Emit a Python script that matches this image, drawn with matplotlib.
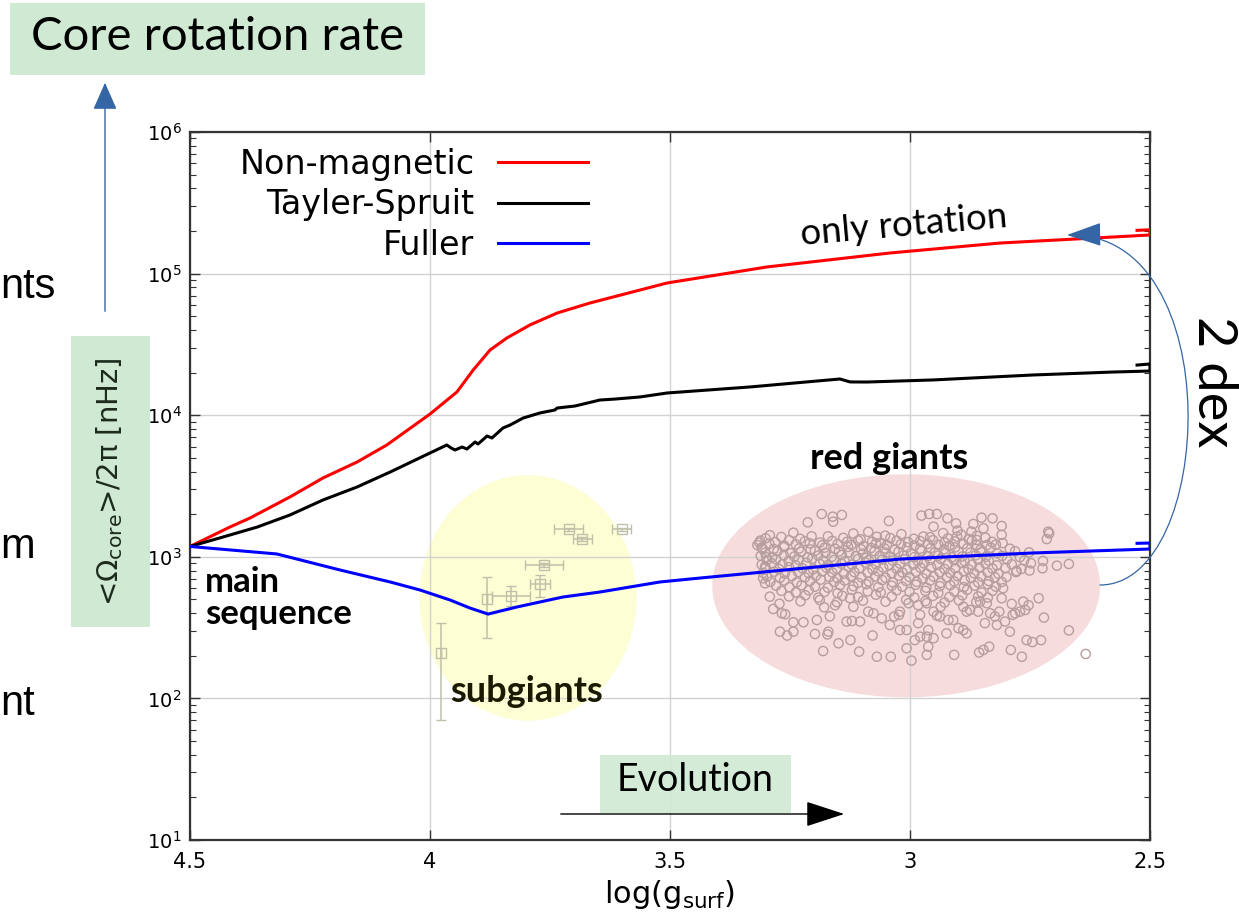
import numpy as np
import matplotlib
matplotlib.use("Agg")
import matplotlib.pyplot as plt
from matplotlib.patches import Rectangle, Ellipse, FancyArrowPatch
from matplotlib.path import Path
from matplotlib.ticker import FixedLocator, FixedFormatter

# --- model tracks: log g vs <Omega_core>/2pi [nHz] ---
red_logg = [4.5, 4.417, 4.375, 4.292, 4.223, 4.152, 4.090, 4.0, 3.944, 3.910, 3.875, 3.840,
            3.792, 3.735, 3.667, 3.5625, 3.506, 3.298, 3.042, 2.8125, 2.577, 2.5, 2.5, 2.527]
red_rate = [1183, 1622, 1879, 2643, 3603, 4670, 6160, 10190, 14580, 20850, 28850, 35080,
            43350, 52700, 61970, 76560, 85860, 111400, 139800, 164400, 181300, 187400, 204000, 202000]

ts_logg = [4.5, 4.431, 4.360, 4.292, 4.223, 4.152, 4.083, 4.0, 3.965, 3.956, 3.948, 3.933,
           3.923, 3.906, 3.900, 3.881, 3.871, 3.848, 3.833, 3.806, 3.771, 3.740, 3.735, 3.698,
           3.646, 3.615, 3.5625, 3.506, 3.333, 3.146, 3.125, 3.090, 2.952, 2.744, 2.577, 2.5,
           2.5, 2.527]
ts_rate = [1183, 1380, 1622, 1972, 2518, 3111, 3970, 5408, 6160, 5866, 5680, 5960,
           5770, 6470, 6260, 7130, 6900, 8120, 8530, 9550, 10370, 10880, 11240, 11610,
           12800, 13000, 13450, 14350, 15830, 18020, 17180, 17150, 17740, 19230, 20180, 20510,
           23000, 22600]

fu_logg = [4.5, 4.319, 4.1875, 4.083, 4.021, 3.958, 3.917, 3.879, 3.819, 3.723, 3.646, 3.521,
           3.4375, 3.021, 2.744, 2.5, 2.5, 2.527]
fu_rate = [1183, 1047, 807, 664, 583, 495, 435, 394, 442, 520, 564, 664,
           708, 964, 1064, 1135, 1251, 1245]

# --- subgiant measurements ---
sg_logg = [3.978, 3.881, 3.831, 3.771, 3.763, 3.711, 3.683, 3.601]
sg_rate = [208, 501, 531, 640, 871, 1564, 1336, 1564]
sg_err_lo = [138, 235, 79, 117, 30, 40, 40, 40]
sg_err_hi = [131, 222, 91, 103, 30, 40, 40, 40]
sg_xerr = [0.0, 0.0, 0.04, 0.02, 0.04, 0.03, 0.02, 0.02]

# --- red giant measurements (outer points) ---
rg_top_logg = [3.184, 3.161, 3.142, 3.160, 3.213, 3.044, 2.976, 2.960, 2.944, 2.922, 2.904, 2.901, 2.951,
               2.851, 2.828, 2.868, 2.847, 2.809, 2.872, 2.861, 2.840, 2.809, 2.807, 2.712, 2.715, 2.710]
rg_top_rate = [2005, 1920, 1975, 1770, 1750, 1790, 1955, 2005, 2005, 1870, 1722, 1531, 1632,
               1890, 1870, 1705, 1590, 1650, 1505, 1314, 1210, 1430, 1250, 1505, 1335, 1464]

rg_low_logg = [3.271, 3.256, 3.198, 3.181, 3.172, 3.149, 3.124, 3.106, 3.078, 3.069,
               3.040, 3.007, 2.997, 2.965, 2.962, 2.908, 2.856, 2.847, 2.835, 2.790,
               2.767, 2.757, 2.745, 2.727, 2.669, 2.634,
               2.669, 2.694, 2.724, 2.721, 2.732,
               2.751, 2.778, 2.764, 2.771, 2.760,
               2.753, 2.788, 2.809, 2.806]
rg_low_rate = [296, 278, 285, 216, 283, 245, 258, 214, 278, 197,
               197, 226, 185, 203, 232, 203, 211, 220, 232, 220,
               197, 258, 250, 258, 302, 206,
               890, 866, 830, 372, 510,
               800, 795, 483, 410, 421,
               455, 465, 510, 600]

rg_left_logg = [3.314, 3.307, 3.299, 3.302, 3.306, 3.302, 3.292, 3.285, 3.272, 3.267, 3.260,
                3.243, 3.222, 3.194, 3.179, 3.167, 3.156]
rg_left_rate = [1260, 1140, 990, 852, 705, 650, 523, 428, 466, 399, 393,
                345, 345, 358, 440, 380, 455]

rg_mid_logg = [3.125, 3.118, 3.132, 3.121, 3.104, 3.087, 3.076, 3.059, 3.042, 3.033,
               3.023, 3.021, 3.003, 2.979, 2.983, 2.965, 2.951, 2.944, 2.936, 2.938,
               2.920, 2.910, 2.899, 2.889, 2.882, 2.924, 2.875, 2.858, 2.844, 2.833,
               2.823, 2.819, 2.814, 2.802, 2.792, 2.786, 2.781, 2.840, 2.854, 2.889,
               2.882, 2.983, 3.021, 3.007, 2.990, 2.979, 2.965, 2.951, 2.962, 3.170, 3.243]
rg_mid_rate = [510, 444, 349, 352, 349, 410, 399, 368, 330, 379,
               389, 410, 470, 389, 340, 470, 410, 385, 444, 379,
               358, 358, 313, 304, 288, 288, 421, 410, 340, 399,
               379, 330, 410, 349, 296, 389, 399, 470, 483, 444,
               410, 456, 304, 304, 258, 273, 273, 266, 304, 296, 296]

# --- red giant measurements (dense core) ---
rg_core_logg = (
    [3.292, 3.243, 3.205, 3.118, 3.087, 3.052, 3.018, 2.972, 2.931, 2.893, 2.861]
    + [3.301, 3.268, 3.229, 3.171, 3.139, 3.103, 3.069, 3.041, 2.992, 2.958, 2.921, 2.902, 2.878, 2.843]
    + [3.312, 3.281, 3.252, 3.219, 3.188, 3.162, 3.131, 3.108, 3.079, 3.061, 3.028, 3.004, 2.979, 2.952,
       2.928, 2.907, 2.871, 2.829]
    + [3.318, 3.293, 3.262, 3.238, 3.209, 3.183, 3.151, 3.122, 3.097, 3.071, 3.048, 3.019, 2.991, 2.963,
       2.941, 2.918, 2.889, 2.861, 2.821]
    + [3.309, 3.284, 3.262, 3.231, 3.207, 3.178, 3.156, 3.129, 3.102, 3.081, 3.053, 3.032, 3.006, 2.979,
       2.957, 2.929, 2.906, 2.881, 2.853, 2.832, 2.792]
    + [3.302, 3.276, 3.249, 3.227, 3.198, 3.176, 3.148, 3.127, 3.098, 3.074, 3.051, 3.024, 2.998, 2.976,
       2.948, 2.926, 2.899, 2.874, 2.851, 2.818, 2.781, 2.752]
    + [3.311, 3.287, 3.263, 3.241, 3.213, 3.191, 3.163, 3.142, 3.113, 3.091, 3.063, 3.041, 3.013, 2.991,
       2.963, 2.941, 2.913, 2.891, 2.863, 2.842, 2.808, 2.771]
    + [3.298, 3.279, 3.253, 3.232, 3.204, 3.181, 3.158, 3.136, 3.108, 3.086, 3.058, 3.036, 3.011, 2.984,
       2.958, 2.936, 2.908, 2.886, 2.858, 2.836, 2.798, 2.762, 2.723]
    + [3.309, 3.288, 3.266, 3.238, 3.216, 3.188, 3.171, 3.143, 3.121, 3.093, 3.071, 3.043, 3.021, 2.993,
       2.971, 2.943, 2.921, 2.893, 2.871, 2.843, 2.819, 2.788, 2.748]
    + [3.301, 3.273, 3.252, 3.224, 3.202, 3.174, 3.152, 3.128, 3.106, 3.078, 3.056, 3.028, 3.006, 2.978,
       2.956, 2.928, 2.906, 2.878, 2.856, 2.828, 2.801, 2.768]
    + [3.306, 3.283, 3.261, 3.233, 3.211, 3.183, 3.162, 3.138, 3.116, 3.088, 3.066, 3.038, 3.016, 2.988,
       2.966, 2.938, 2.916, 2.888, 2.866, 2.838, 2.816, 2.779]
    + [3.298, 3.271, 3.246, 3.219, 3.196, 3.168, 3.151, 3.123, 3.101, 3.073, 3.051, 3.023, 3.001, 2.973,
       2.951, 2.923, 2.901, 2.873, 2.851, 2.823, 2.799]
    + [3.291, 3.262, 3.236, 3.208, 3.186, 3.158, 3.136, 3.108, 3.086, 3.058, 3.036, 3.008, 2.986, 2.958,
       2.936, 2.908, 2.886, 2.858, 2.836, 2.809]
    + [3.279, 3.251, 3.226, 3.198, 3.171, 3.146, 3.118, 3.091, 3.066, 3.038, 3.016, 2.988, 2.966, 2.938,
       2.916, 2.888, 2.866, 2.838, 2.821]
    + [3.268, 3.238, 3.211, 3.178, 3.151, 3.121, 3.088, 3.061, 3.028, 3.001, 2.968, 2.941, 2.908, 2.881,
       2.851, 2.828]
    + [3.252, 3.218, 3.191, 3.141, 3.108, 3.071, 3.038, 2.991, 2.952, 2.918, 2.891, 2.858, 2.838]
    + [3.228, 3.188, 3.152, 3.098, 3.051, 3.008, 2.968, 2.928, 2.898, 2.862]
)
rg_core_rate = (
    [1420, 1480, 1395, 1460, 1500, 1410, 1445, 1390, 1470, 1430, 1405]
    + [1350, 1380, 1340, 1395, 1360, 1330, 1385, 1355, 1340, 1375, 1350, 1390, 1335, 1365]
    + [1300, 1270, 1310, 1285, 1260, 1295, 1275, 1305, 1280, 1255, 1300, 1270, 1290, 1310,
       1265, 1285, 1300, 1275]
    + [1210, 1235, 1200, 1225, 1245, 1205, 1230, 1215, 1190, 1240, 1210, 1225, 1200, 1235,
       1215, 1195, 1230, 1210, 1220]
    + [1160, 1135, 1170, 1145, 1125, 1160, 1140, 1175, 1130, 1155, 1145, 1120, 1165, 1140,
       1150, 1130, 1165, 1145, 1125, 1160, 1140]
    + [1070, 1095, 1060, 1085, 1100, 1065, 1090, 1075, 1055, 1095, 1070, 1085, 1060, 1100,
       1075, 1065, 1090, 1070, 1080, 1060, 1095, 1075]
    + [1015, 995, 1025, 1005, 990, 1020, 1000, 1030, 1010, 985, 1015, 1000, 1025, 995,
       1010, 1020, 990, 1005, 1025, 1000, 1015, 995]
    + [945, 960, 935, 955, 970, 940, 950, 930, 965, 945, 955, 940, 960, 935,
       950, 965, 945, 930, 955, 940, 960, 945, 935]
    + [880, 900, 885, 870, 905, 890, 875, 895, 880, 910, 885, 870, 895, 880,
       900, 875, 890, 905, 880, 895, 870, 885, 900]
    + [835, 820, 845, 830, 815, 840, 825, 850, 830, 815, 840, 825, 810, 835,
       845, 820, 830, 815, 840, 825, 835, 820]
    + [770, 785, 760, 780, 765, 790, 775, 760, 780, 770, 790, 765, 775, 785,
       760, 780, 770, 790, 765, 775, 760, 780]
    + [725, 710, 730, 715, 735, 720, 705, 730, 715, 725, 710, 735, 720, 705,
       725, 715, 730, 710, 725, 715, 720]
    + [665, 680, 660, 675, 690, 665, 680, 655, 670, 685, 660, 675, 665, 680,
       655, 670, 685, 660, 675, 665]
    + [625, 610, 630, 615, 605, 630, 620, 640, 610, 625, 615, 635, 605, 620,
       630, 610, 625, 640, 615]
    + [575, 560, 580, 565, 555, 585, 570, 560, 580, 565, 575, 555, 570, 585,
       560, 575]
    + [525, 535, 515, 530, 520, 540, 525, 515, 530, 520, 535, 525, 515]
    + [485, 495, 478, 490, 482, 497, 486, 475, 492, 480]
)

x_ticks = [4.5, 4.0, 3.5, 3.0, 2.5]
x_ticklabels = ["4.5", "4", "3.5", "3", "2.5"]
legend_labels = ["Non-magnetic", "Tayler-Spruit", "Fuller"]

W, H = 1239, 919
hand = "Lato"
green_box = "#cfe9d3"
arrow_blue = "#3465a4"


def fpos(px, py):
    # pixel position -> figure fraction
    return px / W, 1 - py / H


fig = plt.figure(figsize=(W / 100, H / 100), dpi=100)
ax = fig.add_axes([190 / W, 1 - 840 / H, 960 / W, 708 / H])

ax.set_yscale("log")
ax.set_xlim(4.5, 2.5)
ax.set_ylim(10, 1e6)

# background regions
ax.add_patch(Ellipse((0.352, 0.342), 0.226, 0.347, transform=ax.transAxes,
                     facecolor="#fefed4", edgecolor="none", zorder=1))
ax.add_patch(Ellipse((0.746, 0.359), 0.404, 0.315, transform=ax.transAxes,
                     facecolor="#f6dcdc", edgecolor="none", zorder=1))

ax.grid(True, which="major", color="#d2d2d2", lw=1.0, zorder=1.5)

# observations
rg_logg = rg_top_logg + rg_low_logg + rg_left_logg + rg_mid_logg + rg_core_logg
rg_rate = rg_top_rate + rg_low_rate + rg_left_rate + rg_mid_rate + rg_core_rate
ax.scatter(rg_logg, rg_rate, s=44, facecolors="none", edgecolors="#b79e9e",
           linewidths=1.0, zorder=2)

ax.errorbar(sg_logg, sg_rate, yerr=[sg_err_lo, sg_err_hi], xerr=sg_xerr, fmt="s",
            ms=7, mfc="none", mec="#c0c0aa", mew=1.0, ecolor="#c0c0aa", elinewidth=1.1,
            capsize=3.5, capthick=1.1, zorder=2)

# model tracks
l1, = ax.plot(red_logg, red_rate, color="#ff0000", lw=2.2, zorder=3)
l2, = ax.plot(ts_logg, ts_rate, color="black", lw=2.2, zorder=3)
l3, = ax.plot(fu_logg, fu_rate, color="#0000ff", lw=2.2, zorder=3)

ax.legend([l1, l2, l3], legend_labels, loc="upper right", bbox_to_anchor=(0.415, 0.978),
          frameon=False, markerfirst=False, fontsize=24, handlelength=2.7,
          handletextpad=0.72, labelspacing=0.23, borderpad=0, borderaxespad=0)

ax.xaxis.set_major_locator(FixedLocator(x_ticks))
ax.xaxis.set_major_formatter(FixedFormatter(x_ticklabels))
ax.tick_params(which="both", direction="in", top=True, right=True, color="#333333")
ax.tick_params(which="major", length=7, width=1.0)
ax.tick_params(which="minor", length=4, width=0.8)
ax.tick_params(axis="x", labelsize=15, pad=9)
ax.tick_params(axis="y", labelsize=14, pad=6)
for sp in ax.spines.values():
    sp.set_linewidth(1.6)
    sp.set_color("#333333")

ax.set_xlabel(r"log(g$_\mathregular{surf}$)", fontsize=22, labelpad=4)
ax.set_ylabel(r"<$\Omega_\mathregular{core}$>/2π [nHz]", fontsize=21, color="#1c2a1c")
ax.yaxis.set_label_coords(-0.0833, 0.506)
ax.yaxis.label.set_verticalalignment("center")

# ylabel background
x0, y0 = fpos(71, 627)
fig.patches.append(Rectangle((x0, y0), 79 / W, 291 / H, transform=fig.transFigure,
                             facecolor=green_box, edgecolor="none", zorder=-1))

# title box and vertical arrow
x0, y0 = fpos(10, 75)
fig.patches.append(Rectangle((x0, y0), 415 / W, 72 / H, transform=fig.transFigure,
                             facecolor=green_box, edgecolor="none"))
fig.text(*fpos(218, 37), "Core rotation rate", family=hand, fontsize=34,
         ha="center", va="center", color="black")
fig.patches.append(FancyArrowPatch(fpos(105, 314), fpos(105, 80), transform=fig.transFigure,
                                   arrowstyle="-|>,head_length=1.7,head_width=0.75",
                                   mutation_scale=10, color=arrow_blue, lw=1.0))

# evolution arrow
x0, y0 = fpos(600, 813)
fig.patches.append(Rectangle((x0, y0), 191 / W, 58 / H, transform=fig.transFigure,
                             facecolor=green_box, edgecolor="none", alpha=0.9))
fig.text(*fpos(695, 780), "Evolution", family=hand, fontsize=27,
         ha="center", va="center", color="black")
fig.patches.append(FancyArrowPatch(fpos(558, 814), fpos(847, 814), transform=fig.transFigure,
                                   arrowstyle="-|>,head_length=2.45,head_width=0.8",
                                   mutation_scale=10, color="black", lw=1.0))

# 2 dex arc
verts = [fpos(1100, 585), fpos(1215, 585), fpos(1230, 232), fpos(1067, 235)]
arc = Path(verts, [Path.MOVETO, Path.CURVE4, Path.CURVE4, Path.CURVE4])
fig.patches.append(FancyArrowPatch(path=arc, transform=fig.transFigure,
                                   arrowstyle="-|>,head_length=2.2,head_width=0.75",
                                   mutation_scale=10, color=arrow_blue, lw=0.9))
fig.text(*fpos(1213, 382), "2 dex", family=hand, fontsize=39, rotation=270,
         ha="center", va="center", color="black")

# region labels
fig.text(*fpos(904, 226), "only rotation", family=hand, fontsize=26.5, rotation=5,
         ha="center", va="center", color="black")
fig.text(*fpos(889, 458), "red giants", family=hand, fontsize=26, weight="bold",
         ha="center", va="center", color="black")
fig.text(*fpos(527, 692), "subgiants", family=hand, fontsize=26, weight="bold",
         ha="center", va="center", color="#1a1a00")
fig.text(*fpos(205, 598), "main\nsequence", family=hand, fontsize=25, weight="bold",
         ha="left", va="center", color="black", linespacing=1.0)

# side words
for txt, py in [("nts", 298), ("m", 558), ("nt", 715)]:
    fig.text(*fpos(0, py), txt, family="Liberation Sans", fontsize=30,
             ha="left", va="baseline", color="black")

fig.savefig("out.png", dpi=100)
